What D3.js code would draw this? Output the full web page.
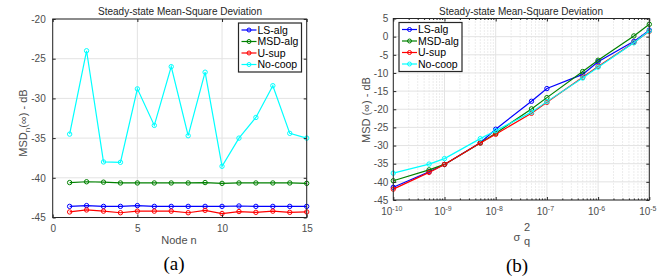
<!DOCTYPE html>
<html>
    <head>
        <meta charset="utf-8">
        <style>
            body { margin: 0; background: #fff; }
            text { font-family: "Liberation Sans", Arial, sans-serif; fill: #262626; }
            .tick text { font-size: 10px; fill: #4d4d4d; }
            .title { font-size: 10px; text-anchor: middle; fill: #262626; }
            .lab { font-size: 11px; text-anchor: middle; fill: #4d4d4d; }
            .cap { font-family: "Liberation Serif", "Times New Roman", serif; font-size: 19px; text-anchor: middle; fill: #000; }
            .legend text { font-size: 10.5px; fill: #000; }
        </style>
        <script src="https://d3js.org/d3.v7.min.js"></script>
    </head>
    <body>
        <svg width="657" height="277"></svg>
        <script>
            // ---- data (a): MSD per node ----
            var nodes = [1, 2, 3, 4, 5, 6, 7, 8, 9, 10, 11, 12, 13, 14, 15];
            var lsNode = [-43.6, -43.5, -43.6, -43.6, -43.5, -43.6, -43.6, -43.6, -43.6, -43.6, -43.55, -43.6, -43.6, -43.6, -43.6];
            var msdNode = [-40.6, -40.5, -40.55, -40.65, -40.65, -40.65, -40.65, -40.65, -40.6, -40.7, -40.65, -40.65, -40.65, -40.65, -40.7];
            var usupNode = [-44.3, -44.05, -44.2, -44.4, -44.2, -44.2, -44.2, -44.4, -44.1, -44.5, -44.25, -44.35, -44.2, -44.35, -44.3];
            var nocoopNode = [-34.5, -24.0, -38.0, -38.05, -28.8, -33.4, -26.0, -34.7, -26.7, -38.55, -35.0, -32.4, -28.4, -34.4, -35.0];

            // ---- data (b): MSD vs sigma_q^2 ----
            var sigma = [1e-10, 5e-10, 1e-9, 5e-9, 1e-8, 5e-8, 1e-7, 5e-7, 1e-6, 5e-6, 1e-5];
            var lsSig = [-41.5, -37.2, -35.2, -29.2, -25.5, -17.8, -14.3, -10.4, -6.9, -1.3, 1.8];
            var msdSig = [-39.7, -36.7, -35.2, -29.3, -26.6, -19.9, -16.8, -9.6, -6.5, 0.2, 3.4];
            var usupSig = [-42.0, -37.4, -35.2, -29.3, -26.9, -21.1, -18.1, -11.2, -8.2, -1.6, 1.5];
            var nocoopSig = [-37.6, -35.1, -33.6, -28.1, -25.9, -20.8, -17.9, -11.4, -8.4, -1.7, 1.6];

            var names = ["LS-alg", "MSD-alg", "U-sup", "No-coop"];
            var colors = ["#0000ff", "#008000", "#ff0000", "#00ffff"];

            var svg = d3.select("svg");
            var fmt = function(d) { return String(d); };   // plain hyphen minus like matlab

            function drawLines(g, x, y, xs, series) {
                series.forEach(function(vals, i) {
                    var pts = xs.map(function(d, j) { return [d, vals[j]]; });
                    var line = d3.line().x(function(d) { return x(d[0]); }).y(function(d) { return y(d[1]); });
                    g.append("path")
                     .attr("d", line(pts))
                     .attr("fill", "none")
                     .attr("stroke", colors[i])
                     .attr("stroke-width", 1.2);
                    g.selectAll(".m" + i)
                     .data(pts)
                     .enter().append("circle")
                     .attr("cx", function(d) { return x(d[0]); })
                     .attr("cy", function(d) { return y(d[1]); })
                     .attr("r", 2.2)
                     .attr("fill", "none")
                     .attr("stroke", colors[i])
                     .attr("stroke-width", 1);
                });
            }

            function drawLegend(x0, y0) {
                var lg = svg.append("g").attr("class", "legend").attr("transform", "translate(" + x0 + "," + y0 + ")");
                lg.append("rect").attr("width", 63).attr("height", 49)
                  .attr("fill", "#fff").attr("stroke", "#262626").attr("stroke-width", 1.2);
                names.forEach(function(n, i) {
                    var yy = 7 + i * 11.5;
                    lg.append("line").attr("x1", 3).attr("x2", 18).attr("y1", yy).attr("y2", yy)
                      .attr("stroke", colors[i]).attr("stroke-width", 1.2);
                    lg.append("circle").attr("cx", 10.5).attr("cy", yy).attr("r", 2)
                      .attr("fill", "none").attr("stroke", colors[i]);
                    lg.append("text").attr("x", 19).attr("y", yy + 3.8).text(n);
                });
            }

            function frame(g, x0, x1, y0, y1) {
                g.append("rect").attr("x", x0).attr("y", y0).attr("width", x1 - x0).attr("height", y1 - y0)
                 .attr("fill", "none").attr("stroke", "#262626").attr("stroke-width", 1);
            }

            function styleAx(s) { s.select(".domain").remove(); s.selectAll("line").attr("stroke", "#262626"); }

            // ================= plot (a) =================
            var ax = d3.scaleLinear().domain([0, 15]).range([52.7, 306.7]);
            var ay = d3.scaleLinear().domain([-45, -20]).range([217.5, 19]);
            var ga = svg.append("g");
            var axTicks = [0, 5, 10, 15];
            var ayTicks = [-45, -40, -35, -30, -25, -20];

            ga.selectAll(".gx").data(axTicks).enter().append("line")
              .attr("x1", ax).attr("x2", ax).attr("y1", 19).attr("y2", 217.5)
              .attr("stroke", "#e3e3e3").attr("stroke-width", 1);
            ga.selectAll(".gy").data(ayTicks).enter().append("line")
              .attr("y1", ay).attr("y2", ay).attr("x1", 52.7).attr("x2", 306.7)
              .attr("stroke", "#e3e3e3").attr("stroke-width", 1);

            drawLines(ga, ax, ay, nodes, [lsNode, msdNode, usupNode, nocoopNode]);

            ga.append("g").attr("transform", "translate(0,217.5)")
              .call(d3.axisBottom(ax).tickValues(axTicks).tickSize(-3).tickPadding(7).tickFormat(fmt)).call(styleAx);
            ga.append("g").attr("transform", "translate(52.7,0)")
              .call(d3.axisLeft(ay).tickValues(ayTicks).tickSize(-3).tickPadding(7).tickFormat(fmt)).call(styleAx);
            ga.append("g").attr("transform", "translate(0,19)")
              .call(d3.axisTop(ax).tickValues(axTicks).tickSize(-3).tickFormat("")).call(styleAx);
            ga.append("g").attr("transform", "translate(306.7,0)")
              .call(d3.axisRight(ay).tickValues(ayTicks).tickSize(-3).tickFormat("")).call(styleAx);
            frame(ga, 52.7, 306.7, 19, 217.5);

            svg.append("text").attr("class", "title").attr("x", 180).attr("y", 15).text("Steady-state Mean-Square Deviation");
            svg.append("text").attr("class", "lab").attr("x", 179).attr("y", 244).text("Node  n");
            var yl = svg.append("text").attr("class", "lab")
              .attr("transform", "translate(27,123) rotate(-90)");
            yl.append("tspan").text("MSD");
            yl.append("tspan").attr("font-size", "8px").attr("dy", 3).text("n");
            yl.append("tspan").attr("dy", -3).text("(\u221E)  -  dB");
            svg.append("text").attr("class", "cap").attr("x", 174).attr("y", 270).text("(a)");
            drawLegend(238.5, 23);

            // ================= plot (b) =================
            var bx = d3.scaleLog().domain([1e-10, 1e-5]).range([393.3, 649.3]);
            var by = d3.scaleLinear().domain([-45, 5]).range([200, 18.5]);
            var gb = svg.append("g");
            var decades = [1e-10, 1e-9, 1e-8, 1e-7, 1e-6, 1e-5];
            var byTicks = [-45, -40, -35, -30, -25, -20, -15, -10, -5, 0, 5];
            var minors = [];
            decades.slice(0, 5).forEach(function(d) {
                for (var k = 2; k <= 9; k++) minors.push(d * k);
            });

            gb.selectAll(".mx").data(minors).enter().append("line")
              .attr("x1", bx).attr("x2", bx).attr("y1", 18.5).attr("y2", 200)
              .attr("stroke", "#d0d0d0").attr("stroke-width", 0.8).attr("stroke-dasharray", "1,2");
            gb.selectAll(".gx").data(decades).enter().append("line")
              .attr("x1", bx).attr("x2", bx).attr("y1", 18.5).attr("y2", 200)
              .attr("stroke", "#e3e3e3").attr("stroke-width", 1);
            gb.selectAll(".gy").data(byTicks).enter().append("line")
              .attr("y1", by).attr("y2", by).attr("x1", 393.3).attr("x2", 649.3)
              .attr("stroke", "#e3e3e3").attr("stroke-width", 1);

            drawLines(gb, bx, by, sigma, [lsSig, msdSig, usupSig, nocoopSig]);

            gb.append("g").attr("transform", "translate(0,200)")
              .call(d3.axisBottom(bx).tickValues(minors).tickSize(-1.5).tickFormat("")).call(styleAx);
            gb.append("g").attr("transform", "translate(0,18.5)")
              .call(d3.axisTop(bx).tickValues(minors).tickSize(-1.5).tickFormat("")).call(styleAx);
            var xb = gb.append("g").attr("transform", "translate(0,200)")
              .call(d3.axisBottom(bx).tickValues(decades).tickSize(-3).tickPadding(8).tickFormat("")).call(styleAx);
            xb.selectAll(".tick text").attr("text-anchor", "middle").each(function(d) {
                var t = d3.select(this);
                t.append("tspan").text("10");
                t.append("tspan").attr("dy", -4).attr("font-size", "7px").text(String(Math.round(Math.log10(d))));
            });
            xb.selectAll(".tick text").attr("dx", -2);
            gb.append("g").attr("transform", "translate(0,18.5)")
              .call(d3.axisTop(bx).tickValues(decades).tickSize(-3).tickFormat("")).call(styleAx);
            gb.append("g").attr("transform", "translate(393.3,0)")
              .call(d3.axisLeft(by).tickValues(byTicks).tickSize(-3).tickPadding(5).tickFormat(fmt)).call(styleAx);
            gb.append("g").attr("transform", "translate(649.3,0)")
              .call(d3.axisRight(by).tickValues(byTicks).tickSize(-3).tickFormat("")).call(styleAx);
            frame(gb, 393.3, 649.3, 18.5, 200);

            svg.append("text").attr("class", "title").attr("x", 521).attr("y", 15).text("Steady-state Mean-Square Deviation");
            svg.append("text").attr("class", "lab").attr("transform", "translate(370,110) rotate(-90)").text("MSD (\u221E)  -  dB");
            svg.append("text").attr("class", "lab").attr("x", 517).attr("y", 241).attr("font-size", "15px").text("\u03C3");
            svg.append("text").attr("class", "lab").attr("x", 527).attr("y", 245).attr("font-size", "11px").text("q");
            svg.append("text").attr("class", "lab").attr("x", 527).attr("y", 231).attr("font-size", "11px").text("2");
            svg.append("text").attr("class", "cap").attr("x", 517).attr("y", 272).text("(b)");
            drawLegend(399, 22.5);
        </script>
    </body>
</html>
